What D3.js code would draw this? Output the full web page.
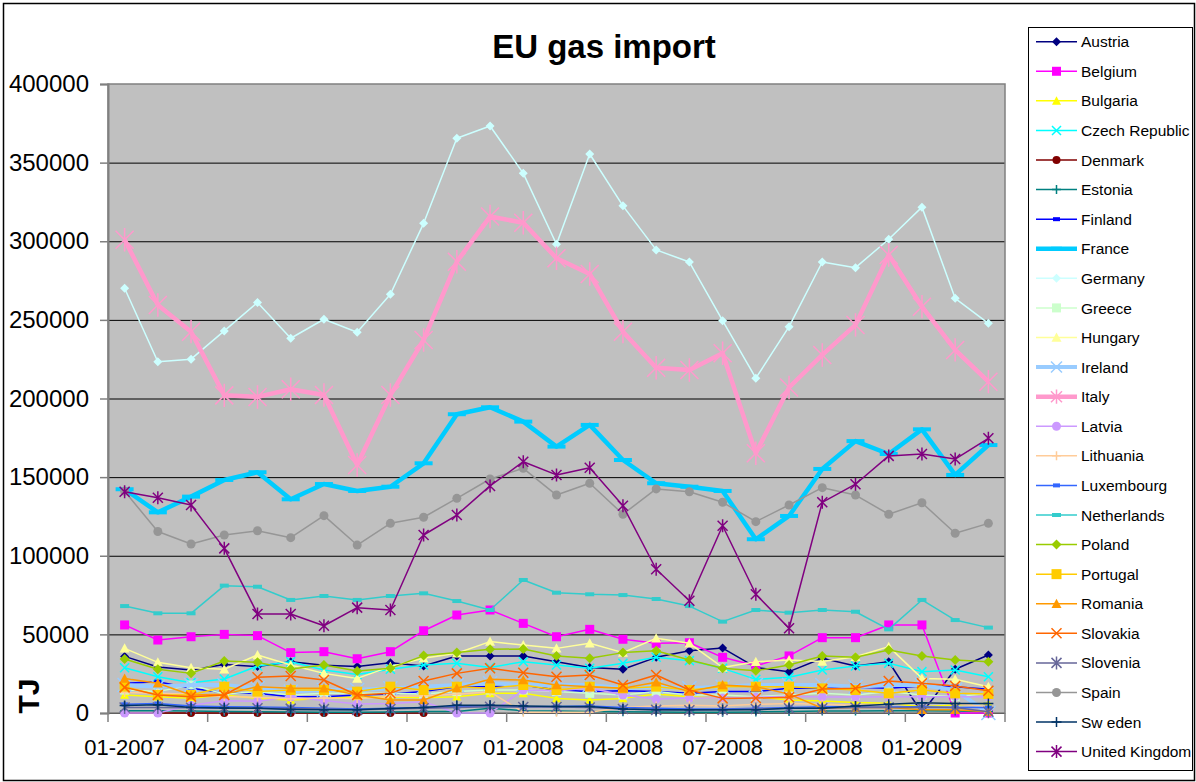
<!DOCTYPE html>
<html lang="en">
<head>
<meta charset="UTF-8">
<title>EU gas import</title>
<script src="https://d3js.org/d3.v7.min.js"></script>
<style>
  body { margin: 0; background: #fff; }
  svg { display: block; font-family: "Liberation Sans", Arial, sans-serif; }
  .grid line { stroke: #000; stroke-width: 1; }
  .grid .domain { display: none; }
</style>
</head>
<body>
<svg width="1196" height="782"></svg>
<script>
const months = ["01-2007","02-2007","03-2007","04-2007","05-2007","06-2007","07-2007","08-2007","09-2007",
  "10-2007","11-2007","12-2007","01-2008","02-2008","03-2008","04-2008","05-2008","06-2008",
  "07-2008","08-2008","09-2008","10-2008","11-2008","12-2008","01-2009","02-2009","03-2009"];
const tickLabels = ["01-2007","04-2007","07-2007","10-2007","01-2008","04-2008","07-2008","10-2008","01-2009"];
const yTicks = [0, 50000, 100000, 150000, 200000, 250000, 300000, 350000, 400000];

const austria = [36000,29200,27300,30800,29500,32600,30300,29500,32000,29900,36300,36300,36300,32600,29000,27800,35400,39600,41300,29000,26300,34800,29900,32600,0,27800,36900];
const belgium = [56000,46400,48500,50000,49200,38400,39000,34500,39000,52300,62300,65500,57000,48500,53200,46900,44300,44700,35400,30000,36300,47900,47900,56000,56000,0,0];
const bulgaria = [11450,10400,9300,11450,9300,8300,9300,10400,10000,9750,10400,12500,12500,9300,8300,9300,12100,10400,9300,10400,8300,7600,6600,6150,4000,5100,6150];
const czech = [28800,23100,19300,21600,29900,32600,27300,24500,27800,30500,31600,29000,32600,30500,28400,31600,35400,33300,28400,21400,22700,27300,29900,31600,26300,27300,23100];
const denmark = [0,0,0,0,0,0,0,0,0,0,null,null,null,null,null,null,null,null,null,null,null,null,null,null,null,null,null];
const estonia = [1500,1400,1200,1000,800,600,500,500,700,900,1000,3000,1500,1200,1000,800,600,500,500,700,900,1200,1300,1400,1500,1200,1000];
const finland = [18900,19900,15700,12900,12500,10400,10400,11450,12100,13600,16750,16750,17800,14600,13600,14200,13600,12500,13600,13600,15700,15700,16300,15700,17200,16750,15050];
const france = [142300,127600,137600,148200,153100,135900,145600,141200,143900,158800,190000,194400,185300,169400,183200,160900,146100,143900,141200,110500,125300,155200,172900,164700,180400,151400,170400];
const germany = [270100,223400,225000,243000,261000,238300,250400,242100,266300,311400,365500,373300,343200,298100,355500,322500,294500,286800,249500,212900,245700,286800,283200,301300,321700,263700,247800];
const greece = [14600,13600,17800,12100,13600,11450,12500,12500,12500,12100,13600,14600,14600,13600,12500,11450,13600,11450,11450,10400,11450,12500,11450,13600,11450,10400,12500];
const hungary = [41100,32200,28800,27800,36900,30500,25200,22000,29500,34800,38000,45400,43250,41100,44300,38400,47500,44300,29000,32600,33700,32700,35800,42200,22000,21400,16700];
const ireland = [17800,16750,17800,17800,15700,13600,14600,14600,15700,16750,17800,18900,17800,17800,17800,15700,16750,15700,16750,17800,17800,17800,16750,17800,17800,14600,0];
const italy = [301000,259500,242500,202000,201000,205900,202200,157700,202200,237200,287000,315700,311800,289200,279200,242500,219600,218100,228800,165200,207000,227700,246800,291300,258400,230900,210700];
const latvia = [0,0,5000,7800,7500,10200,8000,5700,6000,7200,0,0,14600,14000,15900,11450,8900,9500,9500,10000,10600,10200,10200,10400,10400,10400,10400];
const lithuania = [13000,12500,12000,10500,10000,9000,9500,9000,10500,11000,12000,13500,500,500,500,3500,4500,5000,4500,5500,6000,5500,5000,5500,6500,6000,4000];
const luxembourg = [5500,6000,4500,4000,3800,3500,3000,2500,3000,3500,4000,4500,4000,4200,4500,3500,3000,2500,2500,3000,3500,4000,4000,3800,4000,3500,3500];
const netherlands = [68000,63400,63400,81000,80300,71900,74400,71900,74400,76100,71200,65500,84600,76500,75500,75000,72500,68000,58100,65500,63800,65500,64400,53200,71900,59100,54300];
const poland = [34300,27800,25200,33100,32200,28000,30500,26700,28400,36500,38400,40500,40700,36300,34800,38400,39600,33700,28400,26900,30500,36300,35400,40100,36300,33700,32600];
const portugal = [16750,11450,11450,16750,13600,14600,14600,13600,16750,14600,16750,15700,17800,14600,16750,15700,16750,14600,16750,16750,16750,15700,14600,12500,14600,12500,12100];
const romania = [22000,18900,11450,12000,16750,15700,15700,11450,8300,8300,15700,21400,21000,17800,16750,15700,19500,13600,17800,16750,12000,3000,3500,3500,2000,2000,800];
const slovakia = [16300,11450,10400,11450,22700,23500,21000,11450,12500,20350,25200,28400,25600,23100,24200,17800,24200,14600,9300,9500,10000,15250,15700,20350,18900,17200,14200];
const slovenia = [3500,3500,3300,3000,3000,2800,2500,2000,2500,3000,3500,4000,3800,3800,3500,2500,2000,1800,2000,2500,3000,3000,3500,3500,3500,3500,800];
const spain = [141000,115400,107500,113200,115900,111500,125500,106800,120600,124500,136500,148800,155600,138600,146100,126400,142500,140700,134000,121700,132300,143300,138600,126400,133700,114300,120600];
const sweden = [4800,5200,3500,3200,3000,2300,2000,2000,2800,3500,5000,5000,4500,4200,4200,2500,2000,2000,2000,2000,3000,3000,4500,5500,6500,6000,6000];
const uk = [140700,136900,132300,104700,63000,63000,55500,67000,65500,113200,125900,144400,159800,151400,156000,131800,91400,71400,119100,75500,53900,134000,145500,163500,164700,161500,174700];

// name, values, colour, marker, marker half-size, line width
const series = [
  ["Austria", austria, "#000080", "diamond", 4.5, 1.5],
  ["Belgium", belgium, "#FF00FF", "square", 4.5, 1.5],
  ["Bulgaria", bulgaria, "#FFFF00", "triangle", 4.5, 1.5],
  ["Czech Republic", czech, "#00FFFF", "x", 4.5, 1.5],
  ["Denmark", denmark, "#800000", "circle", 4, 1.5],
  ["Estonia", estonia, "#008080", "plus", 4.5, 1.5],
  ["Finland", finland, "#0000FF", "dash", 3.5, 1.5],
  ["France", france, "#00CCFF", "dash", 9, 4.5],
  ["Germany", germany, "#CCFFFF", "diamond", 4.5, 1.5],
  ["Greece", greece, "#CCFFCC", "square", 4.5, 1.5],
  ["Hungary", hungary, "#FFFF99", "triangle", 5, 1.5],
  ["Ireland", ireland, "#99CCFF", "x", 7, 4],
  ["Italy", italy, "#FF99CC", "star", 9, 4.5],
  ["Latvia", latvia, "#CC99FF", "circle", 4.5, 1.5],
  ["Lithuania", lithuania, "#FFCC99", "plus", 4.5, 1.5],
  ["Luxembourg", luxembourg, "#3366FF", "dash", 3.5, 1.5],
  ["Netherlands", netherlands, "#33CCCC", "dash", 4.5, 1.5],
  ["Poland", poland, "#99CC00", "diamond", 5, 1.5],
  ["Portugal", portugal, "#FFCC00", "square", 5, 1.5],
  ["Romania", romania, "#FF9900", "triangle", 5, 1.5],
  ["Slovakia", slovakia, "#FF6600", "x", 5, 1.5],
  ["Slovenia", slovenia, "#666699", "star", 5, 1.5],
  ["Spain", spain, "#969696", "circle", 4.5, 1.5],
  ["Sw eden", sweden, "#003366", "plus", 5, 1.5],
  ["United Kingdom", uk, "#800080", "star", 5, 1.5]
].map(([name, values, color, marker, r, w]) => ({name, values, color, marker, r, w}));

const svg = d3.select("svg");
const plotL = 108, plotR = 1005, plotT = 84, plotB = 713;

// outer border
svg.append("rect").attr("x", 3.5).attr("y", 3.5).attr("width", 1191).attr("height", 777)
  .attr("fill", "#fff").attr("stroke", "#000").attr("stroke-width", 1.5);

svg.append("text").attr("x", 604).attr("y", 58).attr("text-anchor", "middle")
  .attr("font-size", 33).attr("font-weight", "bold").text("EU gas import");

const x = d3.scaleBand().domain(months).range([plotL, plotR]);
const y = d3.scaleLinear().domain([0, 400000]).range([plotB, plotT]);
const cx = m => x(m) + x.bandwidth() / 2;

svg.append("rect").attr("x", plotL).attr("y", plotT).attr("width", plotR - plotL).attr("height", plotB - plotT)
  .attr("fill", "#C0C0C0");

svg.append("g").attr("class", "grid").attr("transform", `translate(${plotL},0)`)
  .call(d3.axisLeft(y).tickValues(yTicks.slice(0, -1)).tickSize(-(plotR - plotL)).tickFormat(""));

svg.append("rect").attr("x", plotL).attr("y", plotT).attr("width", plotR - plotL).attr("height", plotB - plotT)
  .attr("fill", "none").attr("stroke", "#808080").attr("stroke-width", 1.5);

const yAxis = svg.append("g").attr("transform", `translate(${plotL},0)`)
  .call(d3.axisLeft(y).tickValues(yTicks).tickSize(8).tickPadding(11).tickFormat(d3.format("d")));
yAxis.select(".domain").attr("stroke", "#808080").attr("stroke-width", 2);
yAxis.selectAll(".tick line").attr("stroke", "#808080").attr("stroke-width", 1.5);
yAxis.selectAll("text").attr("font-size", 24).attr("fill", "#000")
  .attr("font-family", "'Liberation Sans', Arial, sans-serif");

const xAxis = svg.append("g").attr("transform", `translate(0,${plotB})`)
  .call(d3.axisBottom(x).tickValues(tickLabels).tickSize(0).tickPadding(26));
xAxis.select(".domain").remove();
xAxis.selectAll("text").attr("font-size", 22).attr("fill", "#000")
  .attr("font-family", "'Liberation Sans', Arial, sans-serif");

// category-boundary tick marks every 3 months
const bounds = d3.range(0, months.length + 1, 3).map(i => i < months.length ? x(months[i]) : x.range()[1]);
svg.append("g").selectAll("line").data(bounds).join("line")
  .attr("x1", d => d).attr("x2", d => d).attr("y1", plotB).attr("y2", plotB + 9)
  .attr("stroke", "#808080").attr("stroke-width", 1.5);

svg.append("text").attr("transform", "translate(39,696) rotate(-90)").attr("text-anchor", "middle")
  .attr("font-size", 30).attr("font-weight", "bold").text("TJ");

function markerPath(type, r) {
  switch (type) {
    case "diamond": return `M0,${-r}L${r},0L0,${r}L${-r},0Z`;
    case "square": return `M${-r},${-r}H${r}V${r}H${-r}Z`;
    case "triangle": return `M0,${-r}L${r},${r * 0.85}L${-r},${r * 0.85}Z`;
    case "x": return `M${-r},${-r}L${r},${r}M${r},${-r}L${-r},${r}`;
    case "plus": return `M0,${-r}V${r}M${-r},0H${r}`;
    case "star": return `M${-r},${-r}L${r},${r}M${r},${-r}L${-r},${r}M0,${-r * 1.3}V${r * 1.3}`;
    case "dash": return `M${-r},0H${r}`;
  }
}
const filled = t => ["diamond", "square", "triangle"].includes(t);

function drawMarker(g, s) {
  if (s.marker === "circle") {
    g.append("circle").attr("r", s.r).attr("fill", s.color);
  } else if (filled(s.marker)) {
    g.append("path").attr("d", markerPath(s.marker, s.r)).attr("fill", s.color);
  } else {
    g.append("path").attr("d", markerPath(s.marker, s.r)).attr("fill", "none")
      .attr("stroke", s.color).attr("stroke-width", s.marker === "dash" ? 4 : 1.5);
  }
}

const line = d3.line().defined(d => d.v != null).x(d => cx(d.m)).y(d => y(d.v));
const plot = svg.append("g");
series.forEach(s => {
  const pts = months.map((m, i) => ({m, v: s.values[i]}));
  const g = plot.append("g");
  g.append("path").datum(pts).attr("d", line).attr("fill", "none")
    .attr("stroke", s.color).attr("stroke-width", s.w).attr("stroke-linejoin", "round");
  pts.filter(p => p.v != null).forEach(p => {
    drawMarker(g.append("g").attr("transform", `translate(${cx(p.m)},${y(p.v)})`), s);
  });
});

// legend
const lg = svg.append("g");
lg.append("rect").attr("x", 1028.5).attr("y", 27.5).attr("width", 164).attr("height", 743)
  .attr("fill", "#fff").attr("stroke", "#000");
series.forEach((s, i) => {
  const ly = 41.7 + i * 29.58;
  const g = lg.append("g").attr("transform", `translate(0,${ly})`);
  g.append("line").attr("x1", 1036).attr("x2", 1077).attr("stroke", s.color).attr("stroke-width", s.w);
  drawMarker(g.append("g").attr("transform", "translate(1056.5,0)"),
    Object.assign({}, s, {r: Math.min(s.r, 5.5)}));
  g.append("text").attr("x", 1081).attr("dy", "0.36em").attr("font-size", 15.5).text(s.name);
});
</script>
</body>
</html>
